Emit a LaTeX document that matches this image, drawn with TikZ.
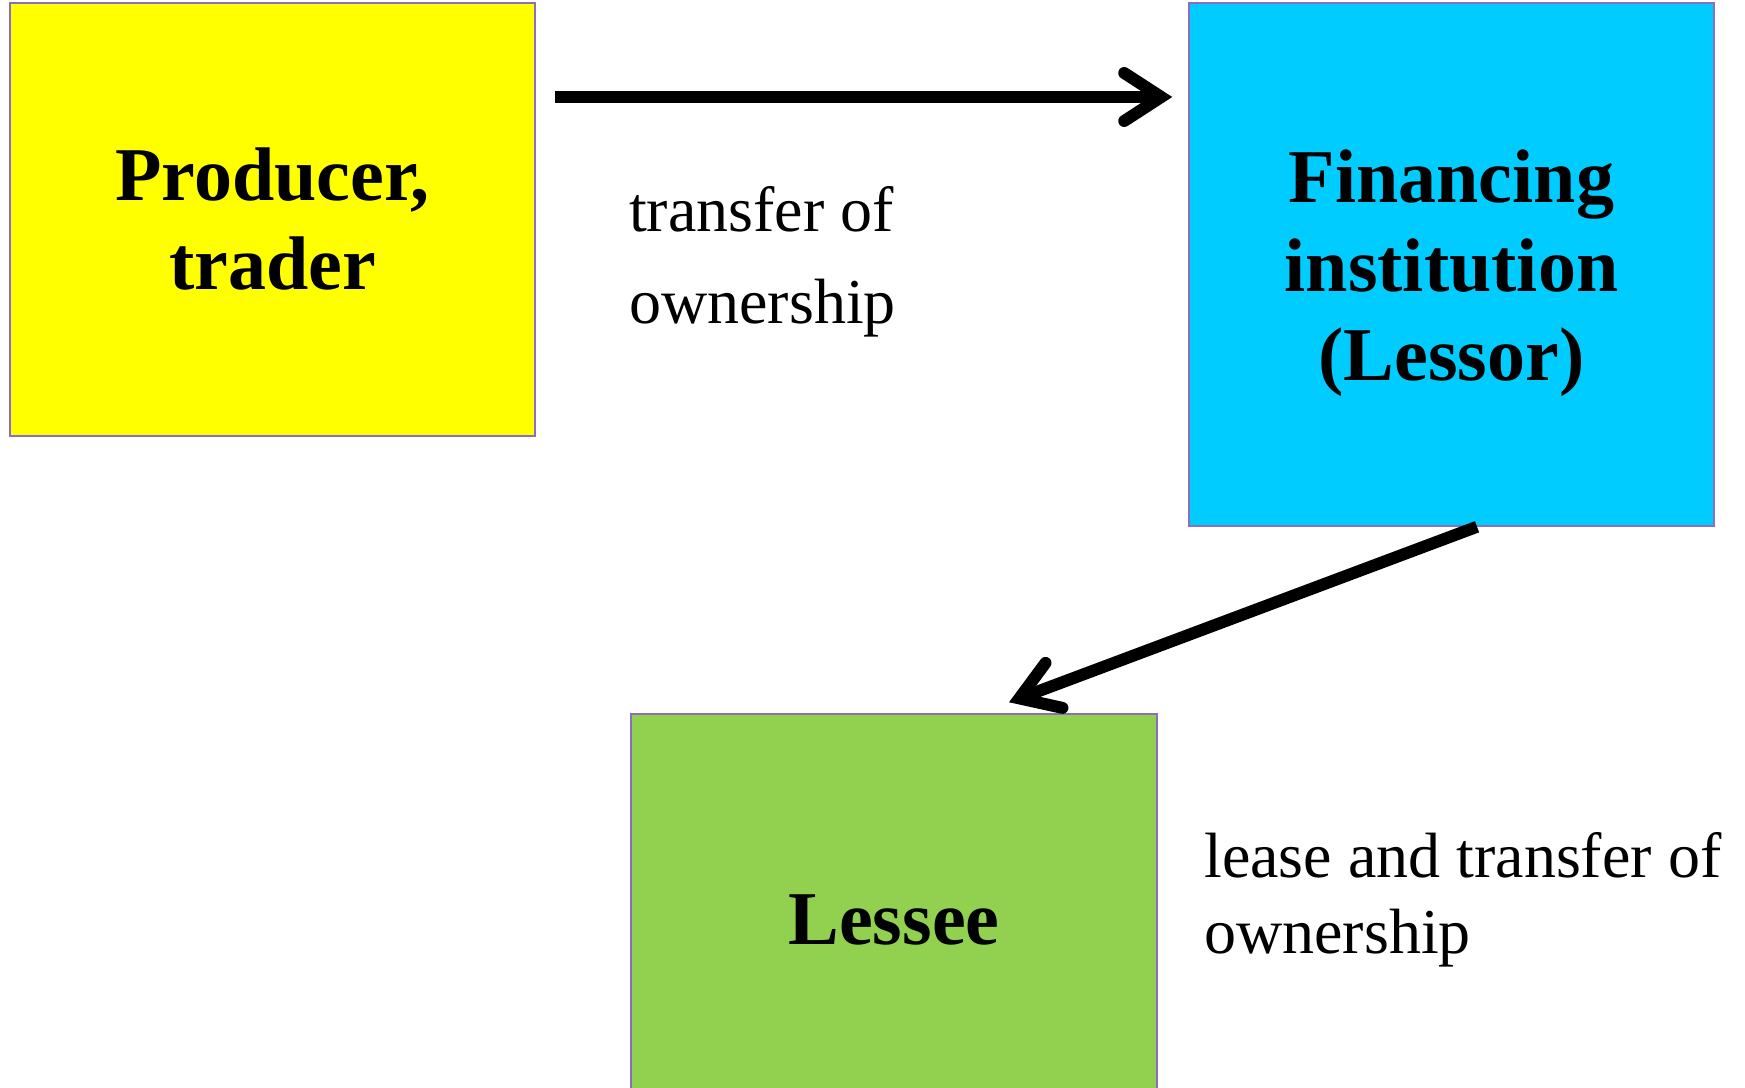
\documentclass[tikz,border=0pt]{standalone}
\usepackage{fontspec}
\setmainfont{Liberation Serif}
\usetikzlibrary{arrows.meta}
\definecolor{boxline}{RGB}{140,110,190}
\definecolor{sunyellow}{RGB}{255,255,0}
\definecolor{skyblue}{RGB}{0,204,255}
\definecolor{leafgreen}{RGB}{146,208,80}
\begin{document}
\begin{tikzpicture}[x=1pt,y=-1pt,
  partybox/.style={draw=boxline,line width=1.5pt,inner sep=0pt},
  partytext/.style={align=center,inner sep=0pt,
    font=\fontsize{76}{89}\selectfont\bfseries},
  party/.style={partybox,partytext},
  note/.style={anchor=base west,align=left,inner sep=0pt,
    font=\fontsize{64}{76}\selectfont},
  conn/.style={line width=12pt,
    -{Straight Barb[length=37pt,width=48pt,line cap=round]}}]
  \useasboundingbox (0,0) rectangle (1745,1087);
  \clip (0,0) rectangle (1745,1087);

  % the three parties
  \node[party,fill=sunyellow,minimum width=525pt,minimum height=433pt]
    (prod) at (272.5,219.5) {Producer,\\trader};
  \node[partybox,fill=skyblue,minimum width=525pt,minimum height=523pt]
    (fin) at (1451.5,264.5) {};
  \node[partytext] (fintext) at ([yshift=-9pt]fin.center)
    {Financing\\institution\\(Lessor)};
  \node[party,fill=leafgreen,minimum width=526pt,minimum height=412pt]
    (lessee) at (894,920) {Lessee};

  % flows between them
  \coordinate (row) at (0,97);
  \draw[conn] ([xshift=19pt]prod.east |- row) -- ([xshift=-16pt]fin.west |- row);
  \draw[conn] ([xshift=25.5pt]fin.south) -- ([xshift=115pt,yshift=11pt]lessee.north);

  % labels (anchored on the baseline of their last line)
  \node[note] (t1) at (629,323) {transfer of\\[16pt]ownership};
  \node[note] (t2) at (1204,953) {lease and transfer of\\ownership};
\end{tikzpicture}
\end{document}
